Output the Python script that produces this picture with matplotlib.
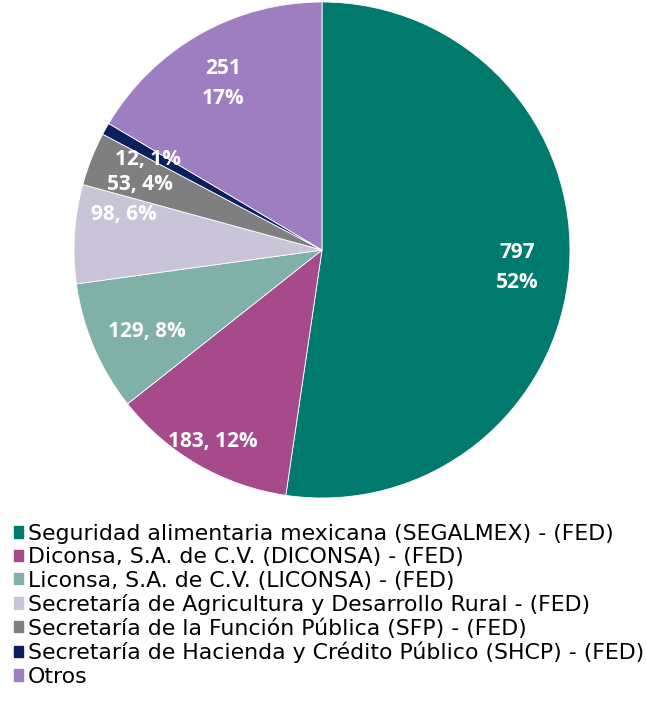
import matplotlib.pyplot as plt
import numpy as np

categories = [
    "Seguridad alimentaria mexicana (SEGALMEX) - (FED)",
    "Diconsa, S.A. de C.V. (DICONSA) - (FED)",
    "Liconsa, S.A. de C.V. (LICONSA) - (FED)",
    "Secretaría de Agricultura y Desarrollo Rural - (FED)",
    "Secretaría de la Función Pública (SFP) - (FED)",
    "Secretaría de Hacienda y Crédito Público (SHCP) - (FED)",
    "Otros",
]
values = [797, 183, 129, 98, 53, 12, 251]
percents = ["52%", "12%", "8%", "6%", "4%", "1%", "17%"]
colors = ["#007A6C", "#A64A8B", "#7FB1A9", "#C9C4D7", "#7F7F7F", "#0B1F5E", "#9C7EC1"]

# label placement tweaks: (radius, angle offset in degrees, two-line?)
label_style = [
    (0.79, -1.0, True),
    (0.89, 0.4, False),
    (0.78, 1.7, False),
    (0.81, -6.6, False),
    (0.78, 1.8, False),
    (0.79, 1.9, False),
    (0.78, 1.1, True),
]

fig = plt.figure(figsize=(6.46, 7.10), dpi=100)
ax = fig.add_axes([74 / 646, 212 / 710, 496 / 646, 496 / 710])

wedges, _ = ax.pie(
    values,
    colors=colors,
    startangle=90,
    counterclock=False,
    radius=1.0,
    wedgeprops=dict(edgecolor="white", linewidth=0.6),
)
ax.set_xlim(-1, 1)
ax.set_ylim(-1, 1)
ax.set_aspect("equal")

for w, val, pct, (r, dang, two_line) in zip(wedges, values, percents, label_style):
    mid = np.deg2rad((w.theta1 + w.theta2) / 2 + dang)
    text = f"{val}\n{pct}" if two_line else f"{val}, {pct}"
    ax.text(
        r * np.cos(mid), r * np.sin(mid), text,
        ha="center", va="center", color="white", fontsize=15,
        fontweight="bold", family="Open Sans", linespacing=1.55,
    )

handles = [plt.Rectangle((0, 0), 1, 1, color=c) for c in colors]
fig.legend(
    handles, categories,
    loc="upper left", bbox_to_anchor=(0.0217, 0.262),
    frameon=False, prop=dict(family="DejaVu Sans", size=15.8),
    handlelength=0.42, handleheight=0.42, handletextpad=0.22,
    labelspacing=0.15, borderaxespad=0, borderpad=0,
)

fig.savefig("out.png", dpi=100)
